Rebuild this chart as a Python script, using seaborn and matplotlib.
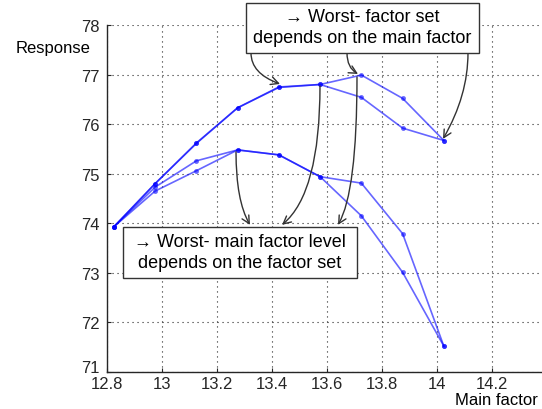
import numpy as np
import pandas as pd
import matplotlib
matplotlib.use("Agg")
import matplotlib.pyplot as plt
from matplotlib.patches import Rectangle
from matplotlib.transforms import ScaledTranslation
import seaborn as sns

# ---- data ----
main_factor = [12.825, 12.975, 13.125, 13.275, 13.425, 13.575, 13.725, 13.875, 14.025]
set_a = [73.93, 74.80, 75.61, 76.33, 76.74, 76.80, 76.99, 76.52, 75.67]
set_b = [73.93, 74.80, 75.62, 76.33, 76.75, 76.80, 76.54, 75.92, 75.67]
set_c = [73.93, 74.73, 75.26, 75.48, 75.38, 74.94, 74.81, 73.79, 71.52]
set_d = [73.93, 74.65, 75.06, 75.48, 75.38, 74.94, 74.15, 73.01, 71.52]
series_names = ["A", "B", "C", "D"]
x_ticks = [12.8, 13.0, 13.2, 13.4, 13.6, 13.8, 14.0, 14.2]
x_tick_labels = ["12.8", "13", "13.2", "13.4", "13.6", "13.8", "14", "14.2"]
y_ticks = [71, 72, 73, 74, 75, 76, 77, 78]
y_tick_labels = ["71", "72", "73", "74", "75", "76", "77", "78"]
box_top_text = "\u2192 Worst- factor set\ndepends on the main factor"
box_bottom_text = "\u2192 Worst- main factor level\ndepends on the factor set"

rows = []
for name, vals in zip(series_names, [set_a, set_b, set_c, set_d]):
    for xv, yv in zip(main_factor, vals):
        rows.append({"x": xv, "y": yv, "set": name})
df = pd.DataFrame(rows)

sns.set_style("ticks")
FAM = ["Liberation Sans", "DejaVu Sans"]
plt.rcParams["font.family"] = FAM

W, H = 542, 410
fig = plt.figure(figsize=(W / 100, H / 100), dpi=100)
axc = "#262626"
ax = fig.add_axes([107 / W, 37 / H, 440 / W, 347 / H])

sns.lineplot(data=df, x="x", y="y", units="set", estimator=None, sort=False,
             color="#0000ff", alpha=0.6, linewidth=1.2, marker="o",
             markersize=3.5, markeredgewidth=0, ax=ax, zorder=3)

ax.set_xlim(12.8, 14.4)
ax.set_ylim(71, 78)
ax.set_xticks(x_ticks)
ax.set_xticklabels(x_tick_labels)
ax.set_yticks(y_ticks)
ax.set_yticklabels(y_tick_labels)
ax.set_xlabel("")
ax.set_ylabel("")
ax.grid(True, color=axc, linestyle=(0, (1, 3.5)), linewidth=0.8)
for s in ["top", "right"]:
    ax.spines[s].set_visible(False)
for s in ["left", "bottom"]:
    ax.spines[s].set_color(axc)
    ax.spines[s].set_linewidth(1.0)
ax.tick_params(direction="in", length=3, width=0.8, color=axc,
               labelcolor=axc, labelsize=12)
ax.tick_params(axis="y", pad=5)
ax.tick_params(axis="x", pad=3)
for lab in ax.get_xticklabels() + ax.get_yticklabels():
    lab.set_family(FAM)

fig.text(53 / W, 1 - 48 / H, "Response", ha="center", va="center",
         fontsize=12, color="black", family=FAM)
fig.text(455 / W, 1 - 405 / H, "Main factor", ha="left", va="baseline",
         fontsize=12, color="black", family=FAM)


def px(xp, yp):
    return (12.8 + (xp - 107) / 275.0, 78 - (yp - 26) / 49.6)


arrow_kw = dict(arrowstyle="->,head_length=0.55,head_width=0.28", color="#333333",
                lw=1.0, shrinkA=0, shrinkB=0)

# arrows from top box to points
for (sx, sy), (ex, ey), angB in [((251, 54), (280, 85), -20),
                                 ((347, 54), (358, 75), -30),
                                 ((468, 54), (443, 140), 60)]:
    ax.annotate("", xy=px(ex, ey), xytext=px(sx, sy), annotation_clip=False,
                arrowprops=dict(connectionstyle=f"angle3,angleA=90,angleB={angB}",
                                **arrow_kw), zorder=4)

# arrows from points to bottom box
for (sx, sy), (ex, ey), angB in [((236, 153), (250, 226), -60),
                                 ((320, 87), (282, 226), 40),
                                 ((357, 78), (338, 226), 60)]:
    ax.annotate("", xy=px(ex, ey), xytext=px(sx, sy), annotation_clip=False,
                arrowprops=dict(connectionstyle=f"angle3,angleA=90,angleB={angB}",
                                **arrow_kw), zorder=4)

# boxes
for (x0, y0, x1, y1), txt in [((246, 4, 479, 54), box_top_text),
                              ((123, 228, 357, 279), box_bottom_text)]:
    r = Rectangle((x0 / W, 1 - y1 / H), (x1 - x0) / W, (y1 - y0) / H,
                  transform=fig.transFigure, facecolor="white", edgecolor="#333333",
                  linewidth=1.0, zorder=10, clip_on=False)
    ax.add_patch(r)
    ax.text((x0 + x1) / 2 / W, 1 - (y0 + y1) / 2 / H + 0.002, txt,
            transform=fig.transFigure,
            ha="center", va="center", fontsize=13, color="black",
            linespacing=1.3, family=FAM, zorder=11, clip_on=False)

# lift the lowest y label a little, as in the reference
ylabs = ax.get_yticklabels()
ylabs[0].set_transform(ylabs[0].get_transform() +
                       ScaledTranslation(0, 6 / 100, fig.dpi_scale_trans))

fig.savefig("out.png", dpi=100)
